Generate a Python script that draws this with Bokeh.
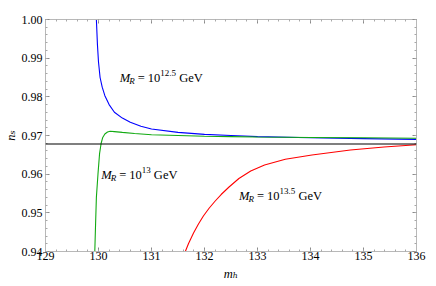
from bokeh.plotting import figure
from bokeh.models import (Range1d, FixedTicker, LinearAxis, Label, Span,
                          NumeralTickFormatter, CustomLabelingPolicy)
from bokeh.embed import file_html
from bokeh.resources import INLINE

# ---- data ----
blue_mh = [129.96, 129.98, 130.00, 130.03, 130.07, 130.12, 130.20, 130.30, 130.45, 130.60,
           130.80, 131.00, 131.50, 132.00, 132.50, 133.00, 134.00, 135.00, 136.00]
blue_ns = [1.0000, 0.9935, 0.9890, 0.9850, 0.9825, 0.9803, 0.9780, 0.9760, 0.9745, 0.9734,
           0.9724, 0.9717, 0.9708, 0.9703, 0.9700, 0.9697, 0.9694, 0.9692, 0.9690]

green_mh = [129.93, 129.945, 129.96, 129.99, 130.02, 130.05, 130.08, 130.12, 130.17, 130.22,
            130.30, 130.45, 130.68, 131.00, 131.50, 132.00, 132.50, 133.00, 134.00, 135.00, 136.00]
green_ns = [0.9400, 0.9472, 0.9540, 0.9600, 0.9653, 0.9680, 0.9695, 0.9704, 0.9709, 0.9711,
            0.9710, 0.9708, 0.9705, 0.9702, 0.9700, 0.9698, 0.9697, 0.9696, 0.9695, 0.9694, 0.9693]

red_mh = [131.638, 131.699, 131.793, 131.886, 131.979, 132.090, 132.202, 132.314, 132.463,
          132.649, 132.872, 133.133, 133.524, 134.027, 134.753, 135.386, 136.000]
red_ns = [0.94000, 0.94207, 0.94478, 0.94711, 0.94918, 0.95125, 0.95306, 0.95474, 0.95668,
          0.95888, 0.96082, 0.96237, 0.96385, 0.96496, 0.96625, 0.96703, 0.96762]

planck_ns = 0.9678

x_ticks = [129, 130, 131, 132, 133, 134, 135, 136]
y_ticks = [0.94, 0.95, 0.96, 0.97, 0.98, 0.99, 1.00]
x_minor = [129 + 0.2 * i for i in range(36)]
y_minor = [0.94 + 0.002 * i for i in range(31)]

x_title = "m\u2095"   # m_h
y_title = "n\u209b"   # n_s

labels = [
    # (x, y, exponent)
    (130.40, 0.98490, "12.5"),
    (130.05, 0.95975, "13"),
    (132.65, 0.95440, "13.5"),
]

FONT = "Liberation Serif"
FS = "12.5px"
FS_SMALL = "9px"

p = figure(width=436, height=286, output_backend="svg", toolbar_location=None,
           x_range=Range1d(129, 136), y_range=Range1d(0.94, 1.0),
           min_border_left=40, min_border_right=20, min_border_top=19, min_border_bottom=35)
p.grid.visible = False
p.outline_line_color = "#b8b8b8"
p.background_fill_color = "white"
p.border_fill_color = "white"

no_labels = CustomLabelingPolicy(code="""
    const all = [...indices.ones()]
    for (const i of all) indices.unset(i)
    return indices
""")

def style_axis(ax, ticks, minor, labels_on):
    ax.ticker = FixedTicker(ticks=ticks, minor_ticks=minor)
    ax.axis_line_color = "#b8b8b8"
    ax.major_tick_in = 4
    ax.major_tick_out = 0
    ax.minor_tick_in = 2
    ax.minor_tick_out = 0
    ax.major_tick_line_color = "#8a8a8a"
    ax.minor_tick_line_color = "#a8a8a8"
    ax.axis_label = None
    if labels_on:
        ax.major_label_text_font = FONT
        ax.major_label_text_font_size = "12px"
        ax.major_label_text_color = "black"
    else:
        ax.major_label_text_font_size = "0px"
        ax.major_label_standoff = 0
        ax.major_label_policy = no_labels

style_axis(p.xaxis[0], x_ticks, x_minor, True)
p.xaxis[0].major_label_standoff = 0
style_axis(p.yaxis[0], y_ticks, y_minor, True)
p.yaxis[0].major_label_standoff = 3
p.yaxis[0].formatter = NumeralTickFormatter(format="0.00")

for ax, title, stand in ((p.xaxis[0], x_title, 4), (p.yaxis[0], y_title, 1)):
    ax.axis_label = title
    ax.axis_label_text_font = "Liberation Serif, DejaVu Serif"
    ax.axis_label_text_font_style = "italic"
    ax.axis_label_text_font_size = "12.5px"
    ax.axis_label_text_color = "black"
    ax.axis_label_standoff = stand

top = LinearAxis()
style_axis(top, x_ticks, x_minor, False)
p.add_layout(top, "above")
right = LinearAxis()
style_axis(right, y_ticks, y_minor, False)
p.add_layout(right, "right")

p.add_layout(Span(location=planck_ns, dimension="width", line_color="black", line_width=1.1))

p.line(blue_mh, blue_ns, line_color="#0000ff", line_width=1.1)
p.line(green_mh, green_ns, line_color="#12aa12", line_width=1.1)
p.line(red_mh, red_ns, line_color="#ff0000", line_width=1.1)

def lab(x, y, text, xo, yo, size=FS, italic=False):
    p.add_layout(Label(x=x, y=y, x_offset=xo, y_offset=yo, text=text,
                       text_font=FONT, text_font_size=size,
                       text_font_style="italic" if italic else "normal",
                       text_color="black", text_align="left", text_baseline="alphabetic"))

for (lx, ly, ex) in labels:
    lab(lx, ly, "M", 0, 0, italic=True)
    lab(lx, ly, "R", 9.5, -3, size=FS_SMALL, italic=True)
    lab(lx, ly, "= 10", 18, 0)
    exw = 4.5 * len(ex.replace(".", "")) + 2.3 * ex.count(".")
    lab(lx, ly, ex, 40.5, 5, size=FS_SMALL)
    lab(lx, ly, "GeV", 40.5 + exw + 3.2, 0)

open("out.html", "w").write(file_html(p, INLINE))
